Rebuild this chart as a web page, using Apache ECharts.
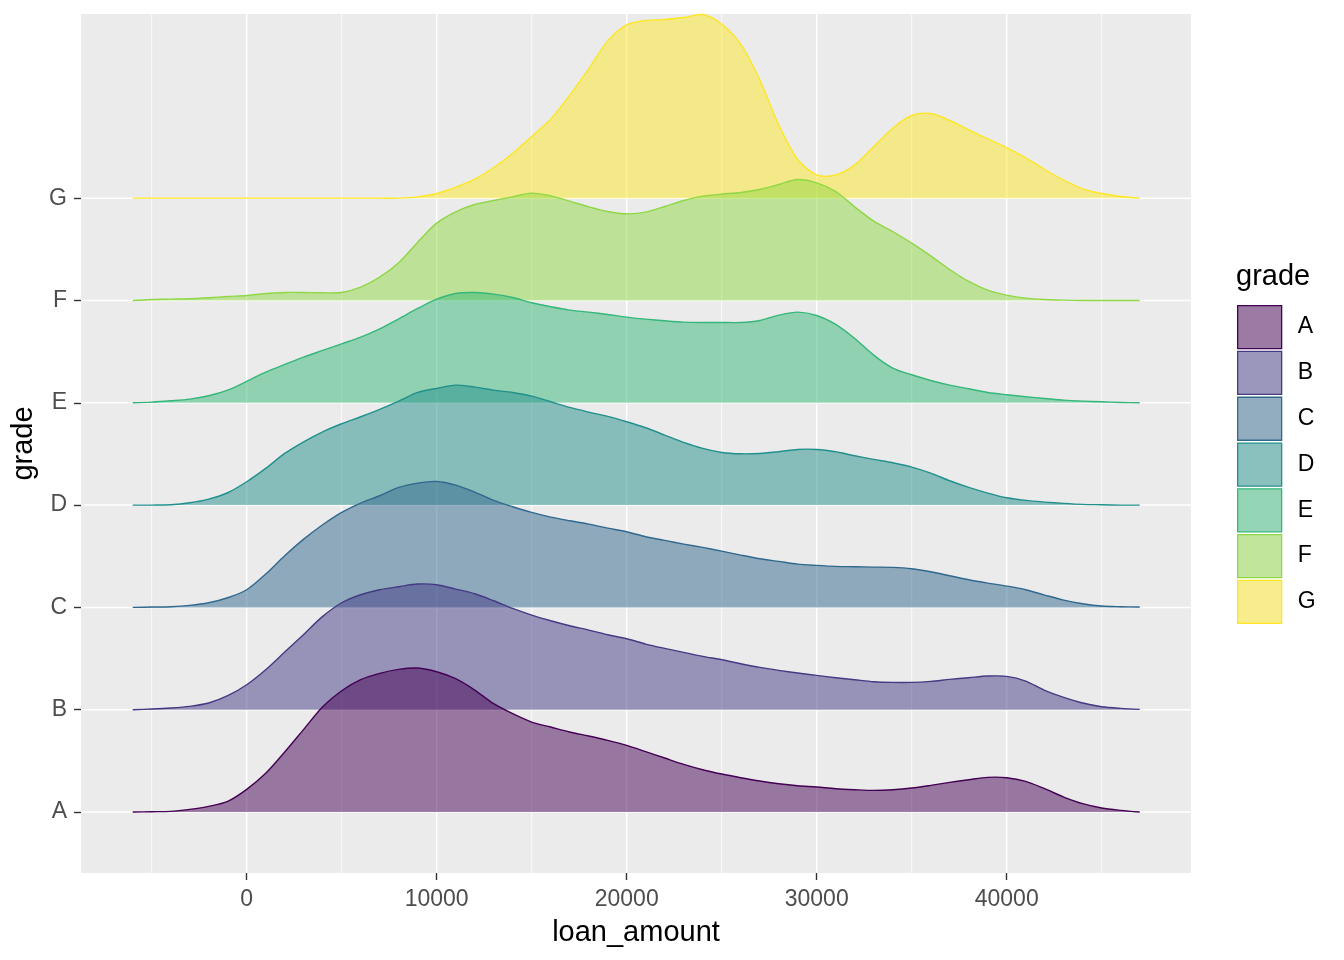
<!DOCTYPE html>
<html>
<head>
<meta charset="utf-8">
<title>loan_amount by grade</title>
<script src="https://cdn.jsdelivr.net/npm/echarts@6/dist/echarts.min.js"></script>
<style>
html, body { margin: 0; padding: 0; background: #fff; }
#main { width: 1344px; height: 960px; }
</style>
</head>
<body>
<div id="main"></div>
<script>
var grades = ['A', 'B', 'C', 'D', 'E', 'F', 'G'];

// sample points along loan_amount
var loanAmount = [-6000, -5000, -4000, -3000, -2000, -1000,
	0, 1000, 2000, 3000, 4000, 5000, 6000, 7000, 8000, 9000,
	10000, 11000, 12000, 13000, 14000, 15000, 16000, 17000, 18000, 19000,
	20000, 21000, 22000, 23000, 24000, 25000, 26000, 27000, 28000, 29000,
	30000, 31000, 32000, 33000, 34000, 35000, 36000, 37000, 38000, 39000,
	40000, 41000, 42000, 43000, 44000, 45000, 46000, 47000];

// ridge heights (scaled density)
var densA = [0, 1, 2, 8, 17, 32,
	68, 116, 180, 248, 316, 364, 397, 416, 428, 432,
	421, 400, 366, 325, 295, 270, 255, 240, 228, 215,
	200, 181, 162, 143, 127, 114, 103, 93, 85, 79,
	75, 70, 67, 65, 67, 72, 80, 89, 97, 104,
	103, 92, 70, 45, 25, 12, 5, 0];
var densB = [0, 2, 5, 10, 20, 42,
	75, 120, 173, 226, 280, 321, 345, 360, 369, 377,
	375, 362, 348, 327, 304, 284, 267, 252, 239, 225,
	213, 197, 184, 172, 160, 150, 138, 127, 118, 110,
	103, 96, 90, 84, 82, 82, 85, 91, 96, 101,
	100, 86, 58, 37, 20, 9, 4, 1];
var densC = [0, 1, 2, 6, 14, 29,
	53, 100, 155, 205, 248, 285, 313, 335, 360, 373,
	378, 367, 346, 321, 302, 285, 271, 260, 250, 238,
	227, 212, 201, 190, 180, 169, 157, 146, 138, 130,
	126, 123, 122, 121, 120, 116, 107, 95, 83, 73,
	64, 53, 37, 22, 11, 4, 2, 1];
var densD = [0, 0, 1, 7, 18, 37,
	70, 110, 155, 190, 220, 244, 265, 287, 312, 338,
	350, 360, 354, 345, 338, 327, 310, 293, 279, 266,
	250, 232, 210, 188, 170, 158, 154, 155, 160, 167,
	167, 160, 148, 137, 127, 114, 96, 73, 53, 36,
	22, 14, 9, 5, 2, 1, 0, 0];
var densE = [0, 2, 6, 11, 21, 38,
	64, 92, 115, 137, 157, 177, 197, 222, 252, 283,
	311, 328, 331, 326, 316, 300, 288, 278, 272, 265,
	257, 251, 246, 242, 241, 241, 241, 247, 263, 272,
	262, 235, 193, 143, 104, 84, 67, 53, 42, 31,
	24, 18, 13, 8, 5, 3, 1, 0];
var densF = [0, 3, 4, 5, 8, 12,
	15, 21, 24, 24, 23, 24, 40, 70, 113, 175,
	232, 266, 288, 300, 311, 322, 314, 298, 281, 267,
	260, 265, 282, 300, 313, 319, 324, 333, 348, 363,
	353, 327, 281, 238, 207, 172, 134, 93, 57, 31,
	16, 7, 3, 1, 0, 0, 0, 0];
var densG = [0, 0, 0, 0, 0, 0,
	0, 0, 0, 0, 0, 0, 0, 0, 0, 4,
	14, 33, 57, 92, 135, 185, 237, 309, 388, 472,
	520, 533, 536, 542, 551, 522, 462, 355, 220, 116,
	70, 70, 100, 155, 210, 248, 254, 233, 205, 178,
	152, 121, 86, 54, 28, 14, 5, 0];

var xMajor = [0, 10000, 20000, 30000, 40000];
var xMinor = [-5000, 5000, 15000, 25000, 35000, 45000];
var yMajor = [1, 2, 3, 4, 5, 6, 7];

var densities = [densA, densB, densC, densD, densE, densF, densG];
var lineColors = ['#440154', '#443A83', '#31688E', '#21908C', '#35B779', '#8FD744', '#FDE725'];
var rowHeight = 307; // scaled density that fills one grade row
var xMin = -8720, xMax = 49700, yMin = 0.404, yMax = 8.8;
var font = 'Liberation Sans, Arial, sans-serif';

function rgba(hex, a) {
	var n = parseInt(hex.slice(1), 16);
	return 'rgba(' + (n >> 16) + ',' + ((n >> 8) & 255) + ',' + (n & 255) + ',' + a + ')';
}
// legend keys sit on grey95
function keyFill(hex) {
	var n = parseInt(hex.slice(1), 16);
	var c = [n >> 16, (n >> 8) & 255, n & 255].map(function (v) { return Math.round(v * 0.5 + 242 * 0.5); });
	return 'rgb(' + c.join(',') + ')';
}

function gridSeries(values, vertical, width) {
	return {
		type: 'custom',
		silent: true,
		z: 1,
		clip: true,
		data: values.map(function (v) { return vertical ? [v, yMin] : [xMin, v]; }),
		renderItem: function (params, api) {
			var v = vertical ? api.value(0) : api.value(1);
			var p1 = vertical ? api.coord([v, yMin]) : api.coord([xMin, v]);
			var p2 = vertical ? api.coord([v, yMax]) : api.coord([xMax, v]);
			return {
				type: 'line',
				shape: { x1: p1[0], y1: p1[1], x2: p2[0], y2: p2[1] },
				style: { stroke: '#fff', lineWidth: width }
			};
		}
	};
}

function ridgeSeries(gi) {
	var dens = densities[gi];
	var color = lineColors[gi];
	return {
		type: 'custom',
		name: grades[gi],
		z: 3,
		clip: false,
		silent: true,
		itemStyle: { color: rgba(color, 0.5) },
		data: [[loanAmount[0], gi + 1]],
		renderItem: function (params, api) {
			var base = gi + 1;
			var top = [];
			for (var k = 0; k < loanAmount.length; k++) {
				top.push(api.coord([loanAmount[k], base + dens[k] / rowHeight]));
			}
			var right = api.coord([loanAmount[loanAmount.length - 1], base]);
			var left = api.coord([loanAmount[0], base]);
			return {
				type: 'group',
				children: [{
					type: 'polygon',
					shape: { points: top.concat([right, left]), smooth: 0.3 },
					style: { fill: rgba(color, 0.5), stroke: null }
				}, {
					type: 'polyline',
					shape: { points: top, smooth: 0.3 },
					style: { fill: null, stroke: color, lineWidth: 1.4 }
				}]
			};
		}
	};
}

var series = [
	gridSeries(xMinor, true, 0.8),
	gridSeries(xMajor, true, 1.5),
	gridSeries(yMajor, false, 1.5)
];
// G at the back, A in front
for (var gi = grades.length - 1; gi >= 0; gi--) {
	series.push(ridgeSeries(gi));
}

var chart = echarts.init(document.getElementById('main'));
var option = {
	animation: false,
	backgroundColor: '#fff',
	textStyle: { fontFamily: font },
	grid: {
		left: 81, right: 153, top: 14, bottom: 87,
		show: true, backgroundColor: '#EBEBEB', borderWidth: 0
	},
	xAxis: {
		type: 'value',
		min: xMin,
		max: xMax,
		axisLine: { show: false, onZero: false },
		splitLine: { show: false },
		axisTick: { show: true, customValues: xMajor, length: 7, lineStyle: { color: '#333', width: 1.4 } },
		axisLabel: {
			customValues: xMajor, color: '#4D4D4D', fontSize: 23, margin: 15, fontFamily: font,
			formatter: function (v) { return String(v); }
		},
		name: 'loan_amount',
		nameLocation: 'middle',
		nameGap: 45,
		nameTextStyle: { color: '#000', fontSize: 29, fontFamily: font }
	},
	yAxis: {
		type: 'value',
		min: yMin,
		max: yMax,
		axisLine: { show: false, onZero: false },
		splitLine: { show: false },
		axisTick: { show: true, customValues: yMajor, length: 7, lineStyle: { color: '#333', width: 1.4 } },
		axisLabel: {
			customValues: yMajor, color: '#4D4D4D', fontSize: 23, margin: 14, fontFamily: font,
			padding: [5, 0, 0, 0],
			formatter: function (v) { return grades[Math.round(v) - 1]; }
		},
		name: 'grade',
		nameLocation: 'middle',
		nameRotate: 90,
		nameGap: 37,
		nameTextStyle: { color: '#000', fontSize: 29, fontFamily: font }
	},
	legend: {
		orient: 'vertical',
		left: 1237,
		top: 305,
		padding: 0,
		itemWidth: 44,
		itemHeight: 43,
		itemGap: 1.5,
		icon: 'rect',
		selectedMode: false,
		textStyle: { fontSize: 23, color: '#000', fontFamily: font, padding: [5, 0, 0, 11] },
		data: grades.map(function (g, i) {
			return { name: g, itemStyle: { color: keyFill(lineColors[i]), borderColor: lineColors[i], borderWidth: 1.3 } };
		})
	},
	graphic: [{
		type: 'text',
		left: 1236,
		top: 262,
		style: { text: 'grade', fontSize: 29, fill: '#000', fontFamily: font }
	}],
	series: series
};
chart.setOption(option);
</script>
</body>
</html>
